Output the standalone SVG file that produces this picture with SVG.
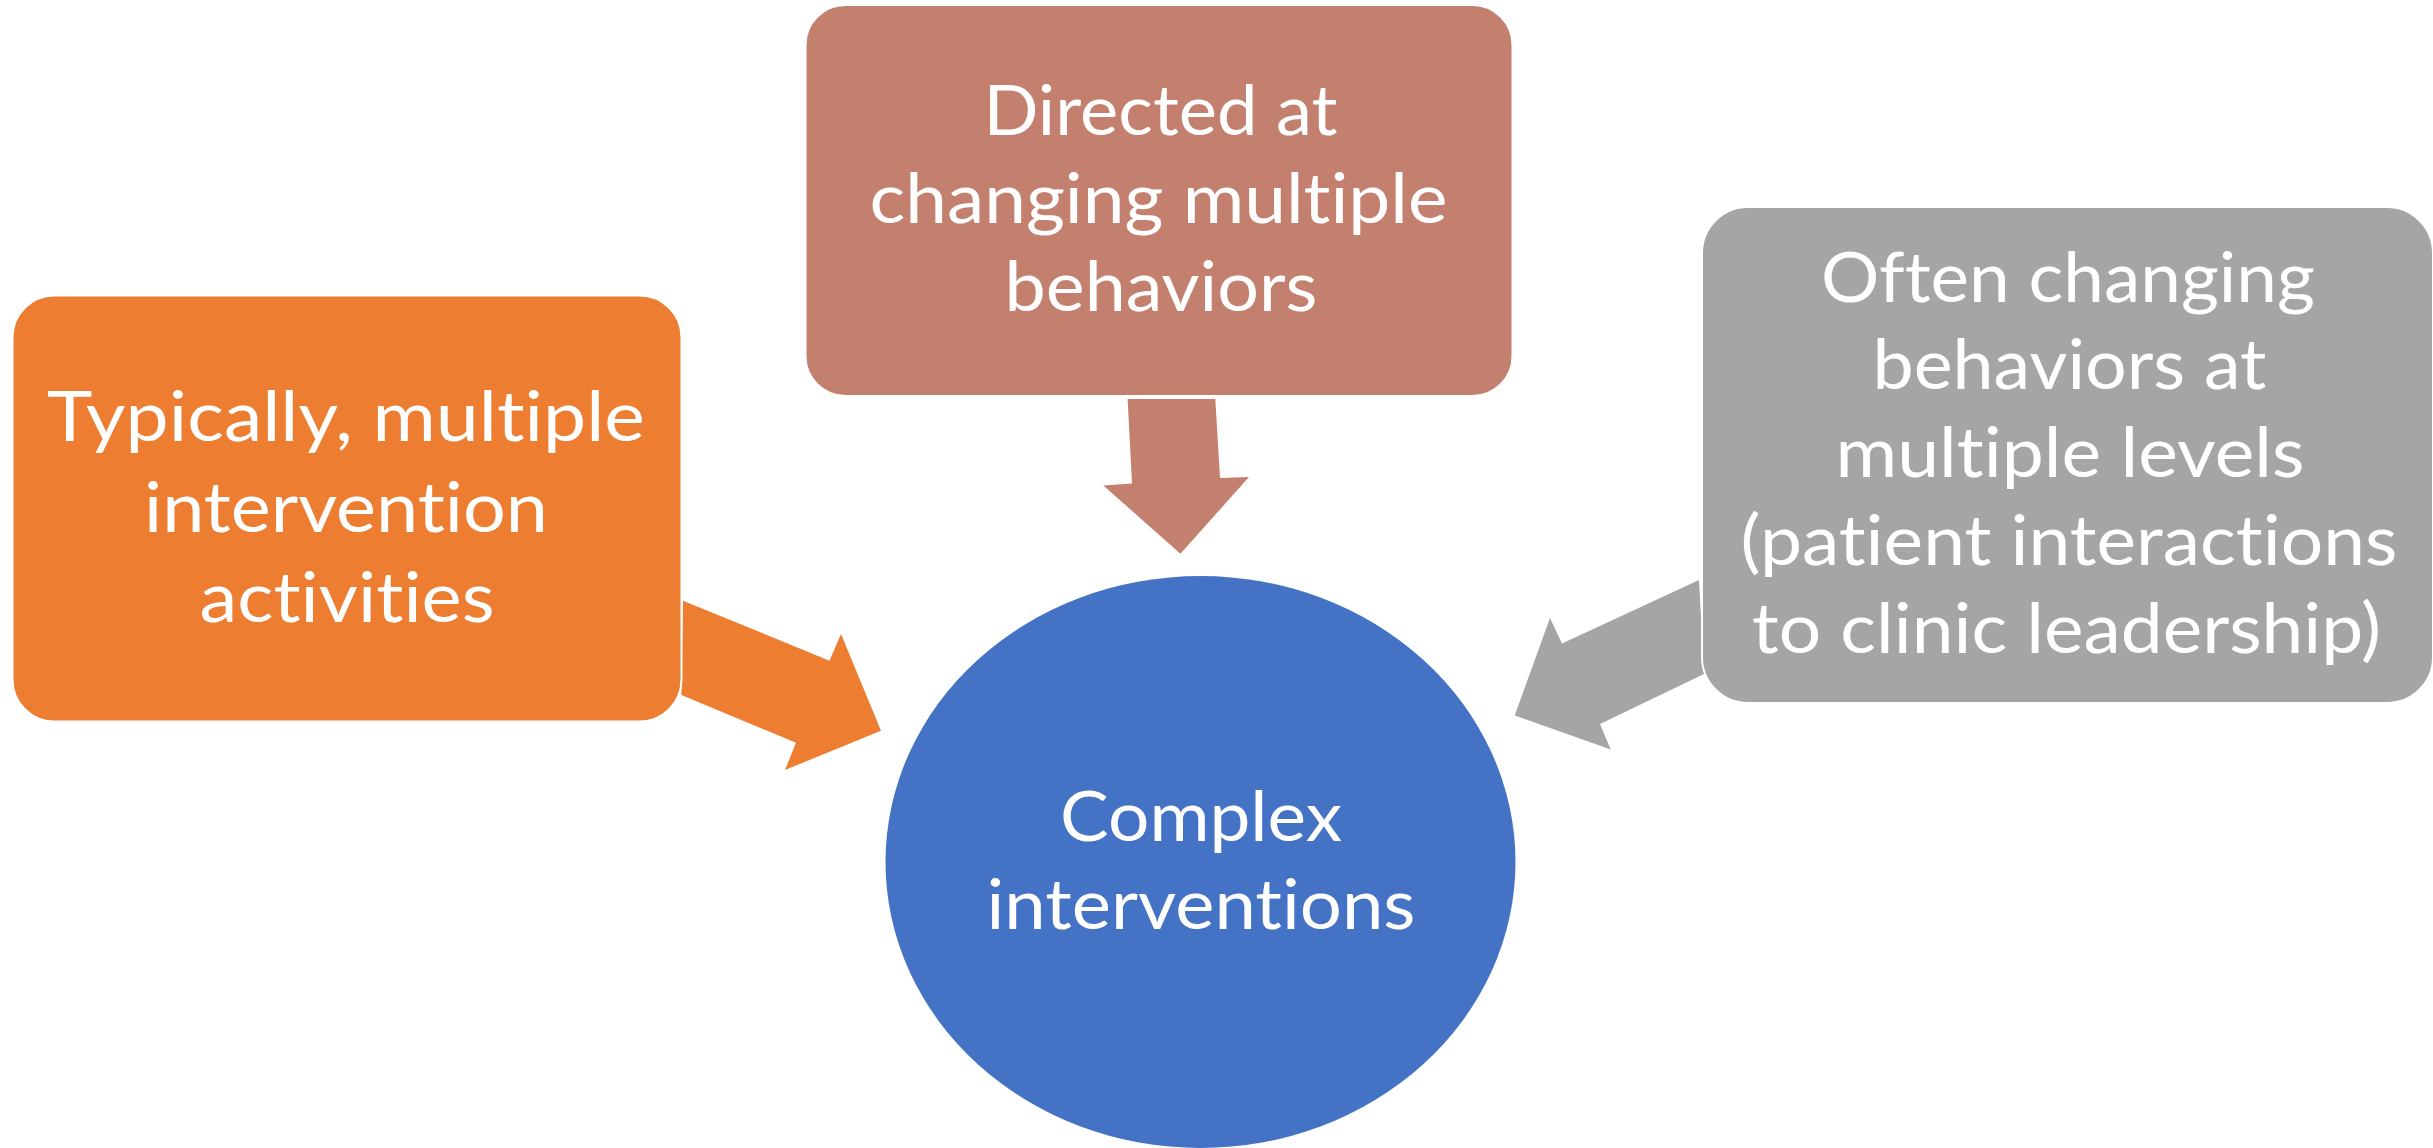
<svg xmlns="http://www.w3.org/2000/svg" width="2433" height="1148" viewBox="0 0 2433 1148">
<style>
.t{font-family:Lato,"Liberation Sans",sans-serif;font-size:70px;fill:#fff;text-anchor:middle;font-variant-ligatures:none;font-feature-settings:"liga" 0,"clig" 0,"dlig" 0}
.box{stroke:#fff;stroke-width:2}
</style>
<rect width="2433" height="1148" fill="#fff"/>
<g id="connectors">
<polygon fill="#ED7D31" points="683,600.7 829.5,660.7 841,634 881,730.7 785,770 796,742.7 681.4,695"/>
<polygon fill="#C4806F" points="1127.6,399 1215.3,399 1220,478 1249,477 1180.4,553.8 1103.3,485.4 1132,483.5"/>
<polygon fill="#A5A5A5" points="1699,580 1562,643.5 1550,618 1514.7,715.4 1610.7,749.5 1600,724 1704,674"/>
</g>
<g id="node-left">
<rect class="box" x="12.5" y="295.5" width="669" height="426" rx="42" fill="#ED7D31"/>
<text class="t" x="346" y="441" textLength="598" lengthAdjust="spacingAndGlyphs">Typically, multiple</text>
<text class="t" x="346" y="532" textLength="404" lengthAdjust="spacingAndGlyphs">intervention</text>
<text class="t" x="347" y="622" textLength="295" lengthAdjust="spacingAndGlyphs">activities</text>
</g>
<g id="node-top">
<rect class="box" x="805.5" y="5" width="707" height="391" rx="40" fill="#C4806F"/>
<text class="t" x="1160.5" y="135" textLength="354" lengthAdjust="spacingAndGlyphs">Directed at</text>
<text class="t" x="1158.5" y="223" textLength="578" lengthAdjust="spacingAndGlyphs">changing multiple</text>
<text class="t" x="1161" y="311" textLength="313" lengthAdjust="spacingAndGlyphs">behaviors</text>
</g>
<g id="node-right">
<rect class="box" x="1702" y="207" width="731" height="496" rx="46" fill="#A5A5A5"/>
<text class="t" x="2068" y="302" textLength="494" lengthAdjust="spacingAndGlyphs">Often changing</text>
<text class="t" x="2069.5" y="389" textLength="394" lengthAdjust="spacingAndGlyphs">behaviors at</text>
<text class="t" x="2070" y="477" textLength="469" lengthAdjust="spacingAndGlyphs">multiple levels</text>
<text class="t" x="2069" y="565" textLength="657" lengthAdjust="spacingAndGlyphs">(patient interactions</text>
<text class="t" x="2066.6" y="653" textLength="629" lengthAdjust="spacingAndGlyphs">to clinic leadership)</text>
</g>
<g id="node-center">
<ellipse cx="1200.5" cy="862" rx="315" ry="286" fill="#4472C4"/>
<text class="t" x="1201" y="841" textLength="282" lengthAdjust="spacingAndGlyphs">Complex</text>
<text class="t" x="1201" y="929" textLength="429" lengthAdjust="spacingAndGlyphs">interventions</text>
</g>
</svg>
